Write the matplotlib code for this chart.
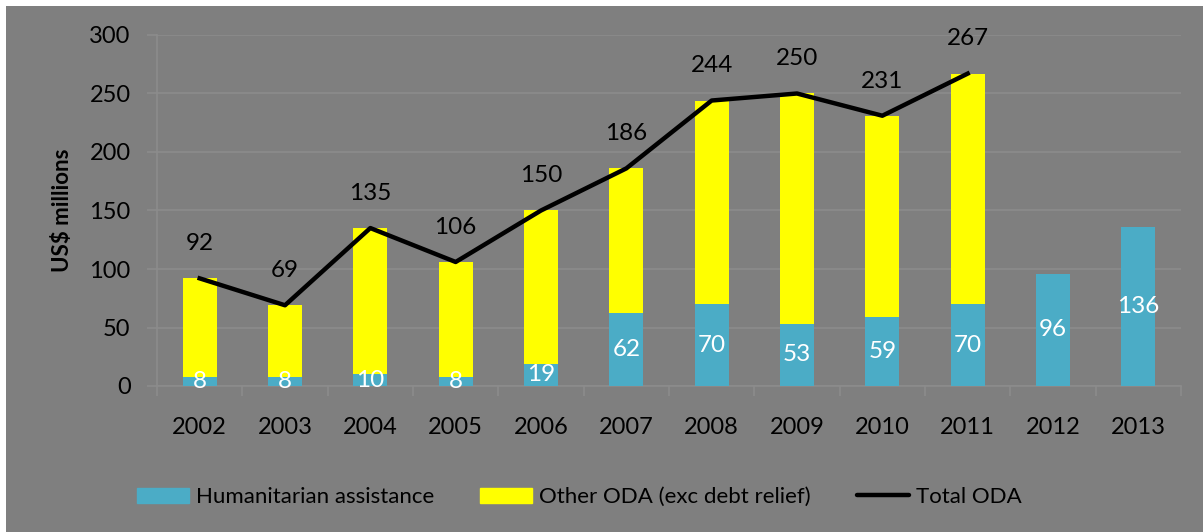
import matplotlib

matplotlib.use("Agg")
import matplotlib.pyplot as plt
import numpy as np
from matplotlib.patches import Rectangle
from matplotlib.lines import Line2D

YEARS = ["2002", "2003", "2004", "2005", "2006", "2007", "2008", "2009",
         "2010", "2011", "2012", "2013"]
HUMANITARIAN = [8, 8, 10, 8, 19, 62, 70, 53, 59, 70, 96, 136]
TOTAL_ODA = [92, 69, 135, 106, 150, 186, 244, 250, 231, 267]
OTHER_ODA = [t - h for t, h in zip(TOTAL_ODA, HUMANITARIAN)]

BG = "#7f7f7f"
GRID = "#8c8c8c"
TEAL = "#4bacc6"
YELLOW = "#ffff00"
INK = "#000000"
FS = 17

plt.rcParams["font.family"] = ["Lato", "DejaVu Sans"]

W, H = 1203, 532
fig = plt.figure(figsize=(W / 100, H / 100), dpi=100, facecolor="white")
fig.patches.append(Rectangle((6 / W, 0), 1 - 6 / W, 1 - 6 / H,
                             transform=fig.transFigure, facecolor=BG,
                             edgecolor="none", zorder=-10))

ax = fig.add_axes([157 / W, 1 - 386 / H, (1181 - 157) / W, (386 - 35) / H])
ax.set_facecolor(BG)

x = np.arange(len(YEARS))
nx_tot = len(TOTAL_ODA)
ax.bar(x, HUMANITARIAN, width=0.4, color=TEAL, zorder=3)
ax.bar(x[:nx_tot], OTHER_ODA, width=0.4, bottom=HUMANITARIAN[:nx_tot],
       color=YELLOW, zorder=3)
ax.plot(x[:nx_tot], TOTAL_ODA, color=INK, linewidth=3.2, zorder=4)

for xi, h in zip(x, HUMANITARIAN):
    ax.text(xi, h / 2, f"{h}", ha="center", va="center",
            fontsize=17.5, color="white", zorder=5)
for xi, t in zip(x, TOTAL_ODA):
    ax.annotate(f"{t}", (xi, t), textcoords="offset points", xytext=(0, 25),
                ha="center", va="center", fontsize=17.5, color=INK, zorder=5)

ax.set_xlim(-0.5, len(YEARS) - 0.5)
ax.set_ylim(0, 300)
ax.set_yticks(np.arange(0, 301, 50))
ax.set_xticks(x, YEARS)
ax.set_xticks(np.arange(-0.5, len(YEARS)), minor=True)
ax.tick_params(axis="x", which="major", length=0, pad=22, labelsize=FS,
               colors=INK)
ax.tick_params(axis="x", which="minor", length=7, color=GRID, width=1.2)
ax.tick_params(axis="y", length=7, color=GRID, width=1.2, pad=12,
               labelsize=FS, colors=INK)
ax.grid(axis="y", color=GRID, linewidth=1.2, zorder=0)
for side in ("top", "right"):
    ax.spines[side].set_visible(False)
for side in ("left", "bottom"):
    ax.spines[side].set_color(GRID)
    ax.spines[side].set_linewidth(1.2)

ax.set_ylabel("US$ millions", fontsize=16, fontweight="bold", color=INK,
              labelpad=12)

handles = [
    Rectangle((0, 0), 1, 1, color=TEAL),
    Rectangle((0, 0), 1, 1, color=YELLOW),
    Line2D([0], [0], color=INK, linewidth=3.2, solid_capstyle="round"),
]
labels = ["Humanitarian assistance", "Other ODA (exc debt relief)", "Total ODA"]
fig.legend(handles, labels, loc="center", bbox_to_anchor=(579 / W, 1 - 497 / H),
           ncol=3, frameon=False, fontsize=16, handlelength=2.34,
           handleheight=0.68, handletextpad=0.32, columnspacing=2.07,
           labelcolor=INK)

fig.savefig("out.png", dpi=100, facecolor="white")
